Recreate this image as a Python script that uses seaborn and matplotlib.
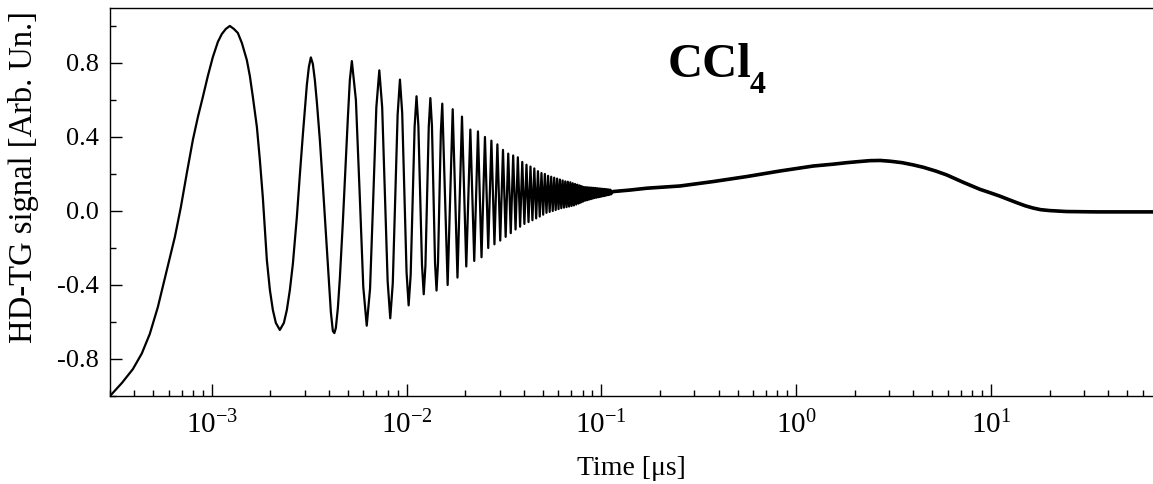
import matplotlib
matplotlib.use("Agg")
import matplotlib.pyplot as plt
from matplotlib.ticker import MultipleLocator, LogLocator, NullFormatter, FormatStrFormatter
import pandas as pd
import seaborn as sns

# HD-TG signal of CCl4, time in microseconds
# first rise, first peak and the two first oscillations
rise_t = [3.0e-4, 3.45e-4, 3.93e-4, 4.37e-4, 4.80e-4, 5.28e-4, 5.87e-4, 6.46e-4, 6.93e-4, 7.44e-4,
          7.99e-4, 8.48e-4, 8.99e-4, 9.54e-4, 1.012e-3, 1.074e-3, 1.126e-3, 1.180e-3, 1.237e-3, 1.297e-3,
          1.360e-3, 1.426e-3, 1.512e-3, 1.567e-3, 1.624e-3, 1.703e-3, 1.764e-3, 1.828e-3, 1.916e-3, 1.986e-3,
          2.057e-3, 2.131e-3, 2.234e-3, 2.343e-3, 2.427e-3, 2.515e-3, 2.606e-3, 2.732e-3, 2.830e-3, 2.932e-3,
          3.002e-3, 3.074e-3, 3.148e-3, 3.223e-3, 3.300e-3, 3.379e-3, 3.460e-3, 3.585e-3, 3.714e-3, 3.848e-3,
          3.987e-3, 4.083e-3, 4.181e-3, 4.256e-3, 4.332e-3, 4.436e-3, 4.542e-3, 4.706e-3, 4.875e-3, 4.992e-3,
          5.111e-3, 5.234e-3]
rise_y = [-1.0, -0.93, -0.855, -0.77, -0.665, -0.52, -0.32, -0.14, 0.02, 0.205,
          0.384, 0.508, 0.616, 0.730, 0.832, 0.914, 0.957, 0.984, 1.0, 0.984,
          0.962, 0.908, 0.816, 0.730, 0.616, 0.454, 0.276, 0.070, -0.265, -0.427,
          -0.535, -0.605, -0.643, -0.605, -0.535, -0.427, -0.286, -0.032, 0.195, 0.411,
          0.546, 0.681, 0.778, 0.83, 0.795, 0.708, 0.589, 0.384, 0.141, -0.114,
          -0.373, -0.546, -0.649, -0.66, -0.632, -0.524, -0.362, -0.059, 0.276, 0.503,
          0.708, 0.81]

# next oscillations (5 - 15 ns)
ring_t = [0.00549, 0.00574, 0.00599, 0.00624, 0.00649, 0.00674, 0.00699, 0.00724,
          0.00749, 0.00774, 0.00799, 0.00824, 0.00849, 0.00874, 0.00899, 0.00924,
          0.00949, 0.00974, 0.00999, 0.01024, 0.01049, 0.01074, 0.01099, 0.01124,
          0.01149, 0.01174, 0.01199, 0.01224, 0.01249, 0.01274, 0.01299, 0.01324,
          0.01349, 0.01374, 0.01399, 0.01424, 0.01449, 0.01474, 0.01499]
ring_y = [0.60, 0.095, -0.41, -0.62, -0.42, 0.07, 0.56, 0.76,
          0.56, 0.09, -0.38, -0.58, -0.39, 0.065, 0.52, 0.71,
          0.53, 0.10, -0.33, -0.51, -0.345, 0.055, 0.455, 0.62,
          0.46, 0.085, -0.29, -0.45, -0.295, 0.08, 0.455, 0.61,
          0.46, 0.09, -0.28, -0.43, -0.28, 0.075, 0.43]

# dense part: maxima and minima of the fast oscillation
peak_t = [0.01524, 0.01724, 0.01924, 0.02124, 0.02324, 0.02524, 0.02724, 0.02924, 0.03124, 0.03324,
          0.03524, 0.03724, 0.03924, 0.04124, 0.04324, 0.04524, 0.04724, 0.04924, 0.05124, 0.05324,
          0.05524, 0.05724, 0.05924, 0.06124, 0.06324, 0.06524, 0.06724, 0.06924, 0.07124, 0.07324,
          0.07524, 0.07724, 0.07924, 0.08124, 0.08324, 0.08524, 0.08724, 0.08924, 0.09124, 0.09324,
          0.09524, 0.09724, 0.09924, 0.10124, 0.10324, 0.10524, 0.10724, 0.10924, 0.11124]
peak_y = [0.58, 0.55, 0.51, 0.44, 0.43, 0.40, 0.38, 0.36, 0.33, 0.31,
          0.30, 0.29, 0.265, 0.25, 0.24, 0.23, 0.215, 0.205, 0.20, 0.19,
          0.185, 0.18, 0.175, 0.17, 0.165, 0.16, 0.158, 0.155, 0.15, 0.146,
          0.142, 0.138, 0.134, 0.13, 0.129, 0.128, 0.127, 0.126, 0.125, 0.124,
          0.123, 0.122, 0.121, 0.12, 0.119, 0.118, 0.117, 0.116, 0.115]
trough_t = [0.01624, 0.01824, 0.02024, 0.02224, 0.02424, 0.02624, 0.02824, 0.03024, 0.03224, 0.03424,
            0.03624, 0.03824, 0.04024, 0.04224, 0.04424, 0.04624, 0.04824, 0.05024, 0.05224, 0.05424,
            0.05624, 0.05824, 0.06024, 0.06224, 0.06424, 0.06624, 0.06824, 0.07024, 0.07224, 0.07424,
            0.07624, 0.07824, 0.08024, 0.08224, 0.08424, 0.08624, 0.08824, 0.09024, 0.09224, 0.09424,
            0.09624, 0.09824, 0.10024, 0.10224, 0.10424, 0.10624, 0.10824, 0.11024, 0.11224]
trough_y = [-0.40, -0.36, -0.30, -0.27, -0.25, -0.20, -0.18, -0.16, -0.14, -0.12,
            -0.10, -0.085, -0.07, -0.06, -0.05, -0.04, -0.03, -0.02, -0.01, -0.005,
            0.0, 0.005, 0.01, 0.015, 0.018, 0.021, 0.024, 0.027, 0.03, 0.035,
            0.04, 0.045, 0.05, 0.055, 0.058, 0.061, 0.064, 0.067, 0.07, 0.072,
            0.074, 0.076, 0.078, 0.08, 0.082, 0.084, 0.086, 0.088, 0.09]

# slow thermal part
tail_t = [0.115, 0.14, 0.171, 0.253, 0.375, 0.557, 0.825, 1.224, 1.55, 1.816, 2.1, 2.391, 2.7,
          3.03, 3.5, 3.99, 4.5, 5.2, 5.92, 7.2, 8.78, 10.0, 11.12, 12.3, 13.55, 15.0, 16.43, 18.0,
          20.09, 24.47, 35.0, 50.0, 68.0]
tail_y = [0.105, 0.113, 0.123, 0.135, 0.159, 0.186, 0.216, 0.243, 0.253, 0.261, 0.267, 0.272, 0.273,
          0.269, 0.261, 0.249, 0.236, 0.216, 0.195, 0.155, 0.117, 0.097, 0.080, 0.062, 0.045, 0.028, 0.016, 0.007,
          0.002, -0.003, -0.005, -0.005, -0.005]

sns.set_theme(style="ticks")
plt.rcParams["font.family"] = ["Liberation Serif", "DejaVu Serif"]
plt.rcParams["mathtext.fontset"] = "stix"
plt.rcParams["axes.unicode_minus"] = False
for key in ["text.color", "axes.labelcolor", "xtick.color", "ytick.color", "axes.edgecolor"]:
    plt.rcParams[key] = "black"

trace = pd.DataFrame({"t": rise_t + ring_t + peak_t + trough_t + tail_t,
                      "y": rise_y + ring_y + peak_y + trough_y + tail_y}).sort_values("t")
tail = pd.DataFrame({"t": tail_t, "y": tail_y})

fig = plt.figure(figsize=(11.53, 4.84), dpi=100)
ax = fig.add_axes([110 / 1153, 88 / 484, 1043 / 1153, 388 / 484])
ax.set_xscale("log")

sns.lineplot(data=trace, x="t", y="y", color="black", lw=1.6, sort=False, estimator=None, ax=ax)
sns.lineplot(data=tail, x="t", y="y", color="black", lw=2.6, sort=False, estimator=None, ax=ax)

ax.set_xlim(3.0e-4, 67.9)
ax.set_ylim(-1.0, 1.097)

ax.xaxis.set_major_locator(LogLocator(base=10))
ax.xaxis.set_minor_locator(LogLocator(base=10, subs=range(2, 10)))
ax.xaxis.set_minor_formatter(NullFormatter())
ax.yaxis.set_major_locator(MultipleLocator(0.4))
ax.yaxis.set_minor_locator(MultipleLocator(0.2))
ax.yaxis.set_major_formatter(FormatStrFormatter("%.1f"))

ax.tick_params(which="both", direction="in", top=False, right=False, bottom=True, left=True, width=1.0)
ax.tick_params(which="major", length=8.5)
ax.tick_params(which="minor", length=4)
ax.tick_params(axis="y", which="major", labelsize=19, pad=8)
ax.tick_params(axis="x", which="major", labelsize=21, pad=11)
for side in ["top", "left", "bottom"]:
    ax.spines[side].set_linewidth(1.0)
ax.spines["right"].set_visible(False)

ax.set_xlabel("Time [μs]", fontsize=20)
ax.xaxis.set_label_coords(0.5, -0.1856)
ax.xaxis.label.set_va("center")
ax.set_ylabel("HD-TG signal [Arb. Un.]", fontsize=23.5)
ax.yaxis.set_label_coords(-0.0834, 0.564)
ax.yaxis.label.set_va("center")

ax.text(0.535, 0.822, "CCl", fontsize=35, fontweight="bold", transform=ax.transAxes,
        ha="left", va="baseline")
ax.text(0.6136, 0.782, "4", fontsize=23, fontweight="bold", transform=ax.transAxes,
        ha="left", va="baseline")

fig.savefig("out.png", dpi=100)
